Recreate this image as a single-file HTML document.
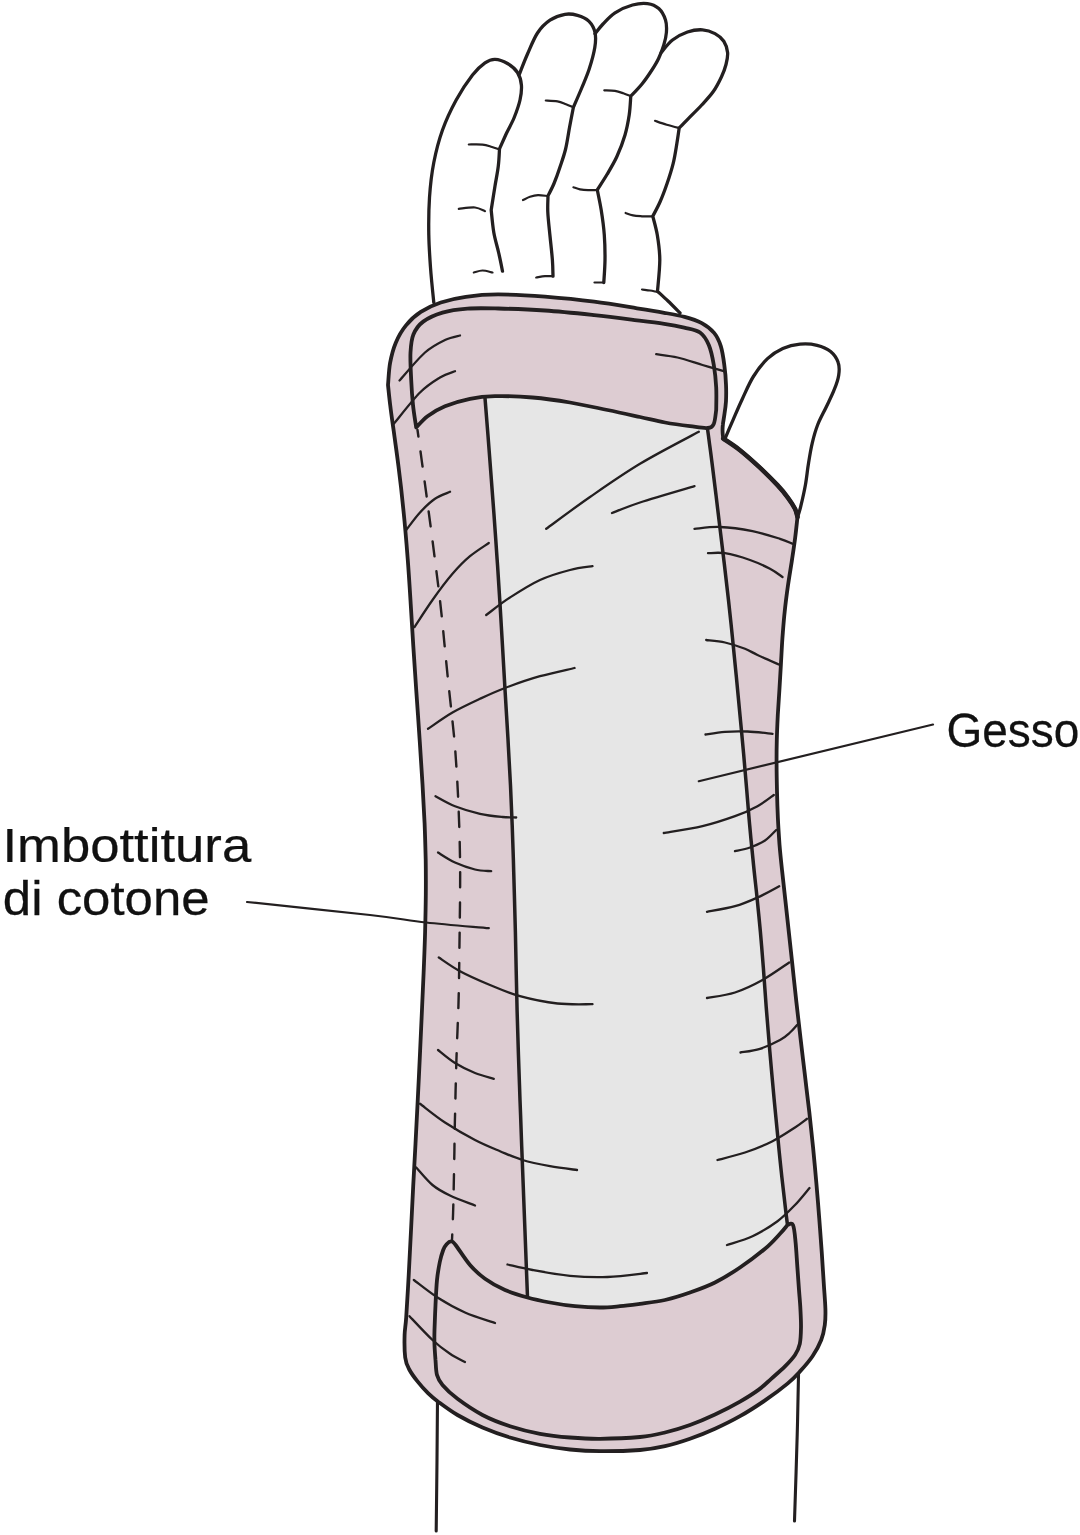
<!DOCTYPE html>
<html lang="it">
<head>
<meta charset="utf-8">
<title>Imbottitura di cotone - Gesso</title>
<style>
html,body{margin:0;padding:0;background:#fff;}
body{width:1080px;height:1535px;overflow:hidden;position:relative;font-family:"Liberation Sans",sans-serif;}
svg{display:block;position:absolute;left:0;top:0;will-change:transform;}
text{font-family:"Liberation Sans",sans-serif;fill:#111;stroke:#111;stroke-width:0.25px;}
</style>
</head>
<body>
<svg width="1080" height="1535" viewBox="0 0 1080 1535">
<rect x="0" y="0" width="1080" height="1535" fill="#ffffff"/>
<path d="M437.5 1398.0 C437.4 1408.3 437.2 1437.8 437.0 1460.0 C436.8 1482.2 436.3 1519.2 436.2 1531.0" fill="none" stroke="#231f20" stroke-width="3.1" stroke-linecap="round" stroke-linejoin="round"/>
<path d="M798.6 1370.0 C798.4 1380.8 797.9 1409.8 797.2 1435.0 C796.5 1460.2 795.0 1506.7 794.5 1521.0" fill="none" stroke="#231f20" stroke-width="3.1" stroke-linecap="round" stroke-linejoin="round"/>
<path d="M433.8 302.5 C433.2 296.7 431.3 278.8 430.5 267.5 C429.7 256.2 429.0 246.7 428.8 235.0 C428.6 223.3 428.7 209.6 429.5 197.5 C430.3 185.4 431.6 173.8 433.8 162.5 C436.0 151.2 438.8 140.4 442.5 130.0 C446.2 119.6 451.2 109.2 456.2 100.0 C461.2 90.8 467.7 81.2 472.5 75.0 C477.3 68.8 481.2 65.4 485.0 62.8 C488.8 60.2 491.2 59.2 495.0 59.3 C498.8 59.4 503.8 61.3 507.5 63.5 C511.2 65.7 515.2 68.9 517.5 72.5 C519.8 76.1 521.0 80.4 521.4 85.0 C521.8 89.6 521.2 94.6 520.0 100.0 C518.8 105.4 516.4 112.0 514.2 117.5 C512.0 123.0 509.1 127.8 506.6 133.0 C504.2 138.2 500.7 146.2 499.5 148.8 C499.3 151.7 499.1 159.8 498.3 166.0 C497.6 172.2 496.2 178.7 495.0 186.0 C493.8 193.3 491.8 206.0 491.2 210.0 C491.6 213.8 492.6 225.4 493.8 232.5 C495.0 239.6 497.2 246.1 498.6 252.5 C500.1 258.9 501.9 268.1 502.5 271.2" fill="none" stroke="#231f20" stroke-width="3.3" stroke-linecap="round" stroke-linejoin="round"/>
<path d="M519.5 73.8 C520.8 70.5 524.5 60.8 527.5 54.0 C530.5 47.2 533.8 38.6 537.5 33.0 C541.2 27.4 545.4 23.3 550.0 20.2 C554.6 17.1 560.4 15.1 565.0 14.3 C569.6 13.5 573.5 14.2 577.5 15.3 C581.5 16.4 585.9 18.3 588.8 21.2 C591.7 24.1 594.0 28.1 595.0 32.5 C596.0 36.9 595.8 41.4 594.8 47.5 C593.8 53.6 591.4 62.2 589.2 69.0 C587.0 75.8 584.3 81.6 581.7 88.0 C579.1 94.4 574.8 104.0 573.4 107.2 C572.8 110.5 570.9 120.0 569.6 127.0 C568.3 134.0 567.2 142.3 565.6 149.0 C564.0 155.7 561.9 161.2 560.0 167.0 C558.1 172.8 556.0 178.7 554.0 183.5 C552.0 188.3 549.0 193.8 548.0 195.8 C548.0 198.5 547.5 205.3 547.8 212.0 C548.1 218.7 549.2 228.0 550.0 236.0 C550.8 244.0 551.9 253.3 552.4 260.0 C552.9 266.7 552.9 273.5 553.0 276.2" fill="none" stroke="#231f20" stroke-width="3.3" stroke-linecap="round" stroke-linejoin="round"/>
<path d="M595.0 33.8 C596.3 32.2 599.7 27.5 603.0 24.0 C606.3 20.5 610.1 16.0 615.0 12.8 C619.9 9.6 627.1 6.5 632.5 5.0 C637.9 3.5 643.1 3.0 647.5 3.6 C651.9 4.2 655.8 5.9 658.8 8.6 C661.8 11.3 664.2 16.0 665.5 20.0 C666.8 24.0 666.7 28.3 666.4 32.5 C666.1 36.7 665.1 40.7 663.8 45.0 C662.5 49.3 660.6 54.2 658.6 58.5 C656.6 62.8 654.4 66.2 651.6 70.5 C648.8 74.8 645.5 79.7 642.0 84.0 C638.5 88.3 632.7 94.2 630.8 96.2 C630.5 99.3 630.2 108.5 629.2 115.0 C628.2 121.5 627.0 128.1 625.0 135.0 C623.0 141.9 619.9 149.9 616.9 156.5 C613.9 163.1 610.3 168.9 607.0 174.5 C603.7 180.1 598.9 187.2 597.3 189.8 C597.9 193.2 600.0 202.5 601.2 210.0 C602.4 217.5 603.7 226.7 604.3 235.0 C604.9 243.3 605.1 252.1 605.0 260.0 C604.9 267.9 604.0 278.8 603.8 282.5" fill="none" stroke="#231f20" stroke-width="3.3" stroke-linecap="round" stroke-linejoin="round"/>
<path d="M661.2 52.5 C663.1 50.4 668.1 43.4 672.5 40.0 C676.9 36.6 682.5 33.7 687.5 32.0 C692.5 30.3 697.9 29.5 702.5 29.8 C707.1 30.1 711.5 31.7 715.0 33.6 C718.5 35.5 721.7 38.1 723.8 41.2 C725.9 44.4 727.2 48.6 727.6 52.5 C728.0 56.4 727.0 60.5 726.0 64.5 C725.0 68.5 723.6 72.2 721.5 76.7 C719.4 81.2 716.6 86.8 713.3 91.5 C710.0 96.2 705.8 100.5 701.7 105.0 C697.6 109.5 692.4 114.5 688.6 118.3 C684.9 122.1 680.8 126.4 679.2 128.0 C678.8 130.6 677.9 137.4 676.9 143.3 C675.9 149.2 674.9 156.5 673.2 163.3 C671.5 170.1 669.1 177.6 666.9 184.0 C664.7 190.4 662.6 196.1 660.2 201.5 C657.9 206.9 654.0 213.8 652.8 216.2 C653.5 219.3 656.1 227.7 657.3 235.0 C658.5 242.3 659.8 250.6 659.8 260.0 C659.8 269.4 657.9 286.0 657.5 291.2 C659.2 292.8 664.2 297.4 668.0 301.0 C671.8 304.6 678.0 311.0 680.0 313.0" fill="none" stroke="#231f20" stroke-width="3.3" stroke-linecap="round" stroke-linejoin="round"/>
<path d="M468.8 144.5 C471.1 144.5 478.6 144.2 482.5 144.6 C486.4 145.0 489.2 146.2 492.0 147.0 C494.8 147.8 498.2 149.1 499.5 149.5" fill="none" stroke="#231f20" stroke-width="2.2" stroke-linecap="round" stroke-linejoin="round"/>
<path d="M458.8 208.8 C461.5 208.6 470.6 207.1 475.0 207.5 C479.4 207.9 483.3 210.6 485.0 211.2" fill="none" stroke="#231f20" stroke-width="2.2" stroke-linecap="round" stroke-linejoin="round"/>
<path d="M473.8 272.5 C475.2 272.2 479.4 270.5 482.5 270.5 C485.6 270.5 490.8 272.2 492.5 272.5" fill="none" stroke="#231f20" stroke-width="2.2" stroke-linecap="round" stroke-linejoin="round"/>
<path d="M545.8 100.5 C547.8 100.6 554.1 100.7 557.5 101.3 C560.9 101.9 563.4 103.2 566.0 104.2 C568.6 105.2 572.2 106.9 573.4 107.4" fill="none" stroke="#231f20" stroke-width="2.2" stroke-linecap="round" stroke-linejoin="round"/>
<path d="M523.0 200.0 C524.2 199.5 527.5 197.6 530.0 196.8 C532.5 196.0 535.0 195.3 538.0 195.2 C541.0 195.1 546.3 195.9 548.0 196.0" fill="none" stroke="#231f20" stroke-width="2.2" stroke-linecap="round" stroke-linejoin="round"/>
<path d="M536.2 277.5 C537.7 277.3 542.2 276.4 545.0 276.2 C547.8 276.0 551.7 276.2 553.0 276.2" fill="none" stroke="#231f20" stroke-width="2.2" stroke-linecap="round" stroke-linejoin="round"/>
<path d="M604.3 90.3 C606.1 90.4 611.8 90.4 615.0 90.9 C618.2 91.4 620.7 92.4 623.3 93.3 C625.9 94.2 629.5 95.7 630.8 96.2" fill="none" stroke="#231f20" stroke-width="2.2" stroke-linecap="round" stroke-linejoin="round"/>
<path d="M573.4 187.3 C574.5 187.6 577.6 188.8 580.0 189.3 C582.4 189.8 585.1 190.1 588.0 190.2 C590.9 190.3 595.8 190.0 597.3 190.0" fill="none" stroke="#231f20" stroke-width="2.2" stroke-linecap="round" stroke-linejoin="round"/>
<path d="M594.5 282.5 L604.0 282.5" fill="none" stroke="#231f20" stroke-width="2.2" stroke-linecap="round" stroke-linejoin="round"/>
<path d="M655.0 120.8 C657.0 121.5 662.7 123.6 666.7 124.8 C670.7 126.0 677.1 127.5 679.2 128.0" fill="none" stroke="#231f20" stroke-width="2.2" stroke-linecap="round" stroke-linejoin="round"/>
<path d="M625.6 213.0 C626.8 213.4 630.3 214.8 633.0 215.4 C635.7 216.0 638.7 216.1 642.0 216.3 C645.3 216.5 651.0 216.4 652.8 216.4" fill="none" stroke="#231f20" stroke-width="2.2" stroke-linecap="round" stroke-linejoin="round"/>
<path d="M642.0 289.5 C643.3 289.7 647.4 290.1 650.0 290.5 C652.6 290.9 656.2 291.8 657.5 292.0" fill="none" stroke="#231f20" stroke-width="2.2" stroke-linecap="round" stroke-linejoin="round"/>
<path d="M725.8 436.8 C727.0 433.9 730.4 425.9 733.2 419.6 C735.9 413.4 738.8 406.4 742.2 399.2 C745.6 392.0 749.1 383.3 753.4 376.5 C757.6 369.8 762.6 363.3 767.5 358.6 C772.4 354.0 777.3 351.0 782.8 348.5 C788.2 346.1 794.3 344.7 800.0 344.2 C805.7 343.6 812.0 344.1 817.1 345.3 C822.2 346.5 827.1 348.6 830.6 351.5 C834.1 354.4 836.9 358.6 838.2 362.6 C839.6 366.6 839.4 370.6 838.7 375.2 C838.0 379.9 836.2 384.9 834.0 390.2 C831.9 395.6 828.7 401.7 826.0 407.5 C823.2 413.3 819.9 419.1 817.6 425.0 C815.3 430.9 813.8 436.5 812.3 442.8 C810.8 449.0 809.7 455.7 808.6 462.8 C807.4 469.8 806.7 477.8 805.4 485.0 C804.1 492.2 802.1 500.8 800.8 506.2 C799.5 511.7 798.0 515.6 797.5 517.5" fill="#fff" stroke="#231f20" stroke-width="3.3" stroke-linecap="round" stroke-linejoin="round"/>
<path d="M388.0 385.0 C388.4 381.3 388.8 369.9 390.1 362.9 C391.4 355.9 393.1 349.1 395.7 342.9 C398.3 336.7 401.6 330.7 405.8 325.6 C409.9 320.4 414.9 315.7 420.8 311.9 C426.6 308.1 433.2 305.0 440.8 302.5 C448.2 300.0 456.2 298.1 465.8 296.8 C475.3 295.4 484.8 294.4 498.0 294.4 C511.2 294.4 529.0 295.4 545.0 296.6 C561.0 297.9 578.9 299.7 594.2 301.7 C609.6 303.6 625.3 306.4 637.0 308.3 C648.7 310.1 656.3 311.3 664.2 312.8 C672.2 314.2 678.4 315.2 684.6 316.9 C690.9 318.6 696.8 320.5 701.8 323.1 C706.7 325.8 710.9 329.0 714.1 332.9 C717.2 336.7 719.1 340.8 720.8 346.1 C722.5 351.5 723.5 358.6 724.3 365.0 C725.2 371.4 725.8 378.5 726.0 384.6 C726.3 390.6 726.2 396.4 726.0 401.2 C725.7 406.1 725.1 410.0 724.5 413.8 C724.0 417.7 723.2 421.4 722.9 424.4 C722.5 427.4 722.5 429.6 722.6 431.9 C722.6 434.3 723.2 437.5 723.3 438.6 C726.1 440.5 734.1 445.5 740.0 450.2 C745.9 454.9 752.5 460.8 758.8 466.6 C765.0 472.4 772.6 480.0 777.5 485.2 C782.4 490.4 785.1 493.9 788.0 497.8 C790.9 501.7 793.4 505.6 795.0 508.8 C796.6 512.0 797.1 515.6 797.5 517.0 C797.1 520.4 796.1 530.4 795.2 537.6 C794.3 544.9 793.1 552.5 791.9 560.4 C790.7 568.4 789.2 576.8 788.0 585.3 C786.8 593.8 785.6 602.7 784.7 611.6 C783.7 620.4 783.1 629.6 782.4 638.4 C781.8 647.3 781.4 656.1 780.9 664.7 C780.4 673.3 779.9 681.6 779.4 690.0 C778.9 698.4 778.3 706.7 777.8 715.0 C777.4 723.3 777.0 731.6 776.8 740.0 C776.6 748.4 776.5 756.7 776.6 765.3 C776.6 773.9 776.8 782.7 777.0 791.6 C777.2 800.4 777.5 809.6 777.9 818.4 C778.3 827.3 778.9 836.0 779.5 844.7 C780.2 853.4 781.1 861.6 782.1 870.8 C783.1 879.9 784.2 889.3 785.3 899.7 C786.5 910.0 787.7 921.5 788.9 932.8 C790.2 944.1 791.4 956.1 792.7 967.7 C793.9 979.2 795.1 990.6 796.4 1002.3 C797.7 1014.1 799.0 1025.9 800.5 1038.0 C801.9 1050.1 803.4 1062.7 804.9 1075.0 C806.3 1087.3 807.9 1099.9 809.3 1112.0 C810.6 1124.1 811.9 1135.9 813.1 1147.7 C814.2 1159.4 815.3 1170.7 816.3 1182.3 C817.3 1194.0 818.3 1206.0 819.2 1217.8 C820.1 1229.6 821.0 1242.1 821.8 1253.0 C822.5 1264.0 823.2 1274.5 823.8 1283.8 C824.4 1293.1 825.2 1301.9 825.4 1308.8 C825.6 1315.7 825.5 1319.8 824.8 1325.0 C824.1 1330.2 823.2 1334.8 821.2 1340.0 C819.2 1345.2 816.0 1351.0 812.5 1356.2 C809.0 1361.4 804.2 1366.8 800.0 1371.4 C795.8 1376.0 793.3 1378.8 787.5 1383.6 C781.7 1388.4 772.9 1395.0 765.0 1400.4 C757.1 1405.8 748.3 1411.5 740.0 1416.2 C731.7 1420.9 723.3 1425.0 715.0 1428.8 C706.7 1432.6 698.3 1435.9 690.0 1438.8 C681.7 1441.7 673.3 1444.3 665.0 1446.2 C656.7 1448.1 650.8 1449.2 640.0 1450.0 C629.2 1450.8 611.7 1451.3 600.0 1451.2 C588.3 1451.1 580.0 1450.5 570.0 1449.5 C560.0 1448.5 550.0 1447.0 540.0 1445.0 C530.0 1443.0 519.6 1440.4 510.0 1437.5 C500.4 1434.6 491.2 1431.2 482.5 1427.5 C473.8 1423.8 465.0 1419.4 457.5 1415.0 C450.0 1410.6 442.4 1404.8 437.5 1401.2 C432.6 1397.6 431.3 1396.5 428.0 1393.2 C424.7 1389.9 420.7 1385.4 417.5 1381.4 C414.3 1377.4 411.1 1373.0 409.0 1369.0 C406.9 1365.0 405.9 1363.2 405.2 1357.5 C404.5 1351.8 404.4 1341.7 404.6 1335.0 C404.8 1328.3 405.5 1327.4 406.2 1317.5 C406.9 1307.6 407.9 1289.8 408.7 1275.3 C409.5 1260.8 410.2 1245.3 411.0 1230.5 C411.8 1215.6 412.5 1200.7 413.2 1186.2 C414.0 1171.8 414.7 1158.3 415.5 1143.8 C416.3 1129.2 417.1 1114.2 417.8 1098.8 C418.6 1083.3 419.4 1066.5 420.1 1051.2 C420.8 1036.0 421.5 1020.8 422.1 1007.0 C422.7 993.2 423.3 980.9 423.8 968.4 C424.3 955.9 424.8 944.2 425.1 932.0 C425.4 919.8 425.7 907.4 425.8 895.3 C425.9 883.2 425.9 871.2 425.7 859.2 C425.4 847.2 425.1 835.9 424.6 823.4 C424.0 810.9 423.3 798.3 422.5 784.2 C421.7 770.2 420.7 754.6 419.6 739.1 C418.6 723.6 417.4 706.7 416.3 691.2 C415.3 675.8 414.2 660.8 413.3 646.2 C412.4 631.7 411.6 618.3 410.7 603.8 C409.8 589.2 408.9 574.2 407.7 558.8 C406.5 543.3 405.1 526.3 403.5 510.9 C402.0 495.6 400.2 479.8 398.5 466.6 C396.9 453.3 395.1 441.7 393.8 431.6 C392.4 421.5 391.2 413.7 390.3 405.9 C389.3 398.2 388.4 388.5 388.0 385.0Z" fill="#ddccd2" stroke="#231f20" stroke-width="3.8" stroke-linecap="round" stroke-linejoin="round"/>
<path d="M723.3 438.6 C726.1 440.5 734.1 445.5 740.0 450.2 C745.9 454.9 752.5 460.8 758.8 466.6 C765.0 472.4 772.6 480.0 777.5 485.2 C782.4 490.4 785.1 493.9 788.0 497.8 C790.9 501.7 793.4 505.6 795.0 508.8 C796.6 512.0 797.1 515.6 797.5 517.0" fill="none" stroke="#231f20" stroke-width="4.6" stroke-linecap="round" stroke-linejoin="round"/>
<path d="M485.0 398.0 C485.5 404.3 487.0 423.3 488.0 435.7 C489.0 448.1 489.8 459.4 490.8 472.4 C491.8 485.3 492.8 498.8 493.9 513.3 C494.9 527.7 496.1 544.0 497.1 559.1 C498.2 574.1 499.1 589.2 500.0 603.8 C500.9 618.3 501.6 631.7 502.5 646.2 C503.3 660.8 504.2 675.7 505.1 691.2 C506.0 706.8 507.1 723.7 508.0 739.4 C508.8 755.1 509.8 771.1 510.5 785.5 C511.2 799.8 511.7 812.8 512.2 825.3 C512.7 837.8 513.0 848.8 513.4 860.5 C513.7 872.2 514.1 883.6 514.4 895.6 C514.7 907.7 515.1 920.1 515.4 932.7 C515.7 945.2 515.9 957.9 516.2 970.9 C516.5 984.0 516.8 997.0 517.1 1010.8 C517.5 1024.6 517.9 1038.9 518.4 1053.8 C518.9 1068.6 519.5 1084.6 520.0 1100.0 C520.6 1115.4 521.2 1131.2 521.7 1146.2 C522.3 1161.2 522.8 1175.8 523.4 1190.0 C523.9 1204.2 524.5 1218.6 525.0 1231.7 C525.5 1244.7 526.0 1257.4 526.4 1268.2 C526.8 1279.1 527.3 1292.2 527.5 1297.0 L527.5 1297.5 C531.2 1298.3 542.1 1301.0 550.0 1302.5 C557.9 1304.0 566.7 1305.4 575.0 1306.2 C583.3 1307.0 592.5 1307.5 600.0 1307.5 C607.5 1307.5 613.3 1306.8 620.0 1306.2 C626.7 1305.6 632.5 1304.8 640.0 1303.8 C647.5 1302.8 656.7 1301.9 665.0 1300.0 C673.3 1298.1 681.7 1295.4 690.0 1292.5 C698.3 1289.6 706.7 1286.7 715.0 1282.5 C723.3 1278.3 731.7 1273.1 740.0 1267.5 C748.3 1261.9 758.3 1254.4 765.0 1248.8 C771.7 1243.2 776.2 1237.8 780.0 1233.8 C783.8 1229.8 786.2 1226.5 787.5 1225.0 C787.0 1221.3 785.7 1210.9 784.8 1202.8 C783.9 1194.7 782.9 1186.7 781.8 1176.6 C780.7 1166.5 779.5 1155.2 778.3 1142.2 C777.0 1129.2 775.5 1113.9 774.1 1098.8 C772.7 1083.6 771.1 1066.5 769.8 1051.2 C768.5 1036.0 767.3 1020.8 766.2 1007.0 C765.1 993.2 764.3 980.9 763.4 968.4 C762.4 955.9 761.5 944.2 760.4 932.0 C759.3 919.8 758.0 907.4 756.8 895.3 C755.5 883.2 754.1 871.2 753.0 859.5 C751.8 847.9 750.7 836.9 749.7 825.5 C748.6 814.0 747.8 802.8 746.8 790.8 C745.8 778.8 744.8 766.2 743.6 753.6 C742.5 741.0 741.2 728.0 740.0 715.3 C738.8 702.6 737.6 690.1 736.4 677.3 C735.1 664.6 733.9 651.9 732.6 639.1 C731.3 626.2 729.9 613.0 728.5 600.3 C727.1 587.6 725.6 574.9 724.2 563.0 C722.8 551.0 721.4 539.6 720.0 528.4 C718.7 517.3 717.4 506.2 716.1 495.9 C714.9 485.6 713.6 475.2 712.5 466.7 C711.4 458.1 710.5 450.7 709.6 444.5 C708.8 438.2 707.9 431.6 707.5 429.0 L707.5 428.0 C704.6 427.7 697.1 427.1 690.0 426.2 C682.9 425.3 673.3 424.0 665.0 422.5 C656.7 421.0 649.6 419.1 640.0 417.0 C630.4 414.9 619.2 412.4 607.5 410.0 C595.8 407.6 582.5 404.6 570.0 402.5 C557.5 400.4 545.0 398.6 532.5 397.5 C520.0 396.4 501.2 396.4 495.0 396.2Z" fill="#e6e6e6" stroke="none" stroke-width="2.5" stroke-linecap="round" stroke-linejoin="round"/>
<path d="M485.0 398.0 C485.5 404.3 487.0 423.3 488.0 435.7 C489.0 448.1 489.8 459.4 490.8 472.4 C491.8 485.3 492.8 498.8 493.9 513.3 C494.9 527.7 496.1 544.0 497.1 559.1 C498.2 574.1 499.1 589.2 500.0 603.8 C500.9 618.3 501.6 631.7 502.5 646.2 C503.3 660.8 504.2 675.7 505.1 691.2 C506.0 706.8 507.1 723.7 508.0 739.4 C508.8 755.1 509.8 771.1 510.5 785.5 C511.2 799.8 511.7 812.8 512.2 825.3 C512.7 837.8 513.0 848.8 513.4 860.5 C513.7 872.2 514.1 883.6 514.4 895.6 C514.7 907.7 515.1 920.1 515.4 932.7 C515.7 945.2 515.9 957.9 516.2 970.9 C516.5 984.0 516.8 997.0 517.1 1010.8 C517.5 1024.6 517.9 1038.9 518.4 1053.8 C518.9 1068.6 519.5 1084.6 520.0 1100.0 C520.6 1115.4 521.2 1131.2 521.7 1146.2 C522.3 1161.2 522.8 1175.8 523.4 1190.0 C523.9 1204.2 524.5 1218.6 525.0 1231.7 C525.5 1244.7 526.0 1257.4 526.4 1268.2 C526.8 1279.1 527.3 1292.2 527.5 1297.0" fill="none" stroke="#231f20" stroke-width="3.5" stroke-linecap="round" stroke-linejoin="round"/>
<path d="M787.5 1225.0 C787.0 1221.3 785.7 1210.9 784.8 1202.8 C783.9 1194.7 782.9 1186.7 781.8 1176.6 C780.7 1166.5 779.5 1155.2 778.3 1142.2 C777.0 1129.2 775.5 1113.9 774.1 1098.8 C772.7 1083.6 771.1 1066.5 769.8 1051.2 C768.5 1036.0 767.3 1020.8 766.2 1007.0 C765.1 993.2 764.3 980.9 763.4 968.4 C762.4 955.9 761.5 944.2 760.4 932.0 C759.3 919.8 758.0 907.4 756.8 895.3 C755.5 883.2 754.1 871.2 753.0 859.5 C751.8 847.9 750.7 836.9 749.7 825.5 C748.6 814.0 747.8 802.8 746.8 790.8 C745.8 778.8 744.8 766.2 743.6 753.6 C742.5 741.0 741.2 728.0 740.0 715.3 C738.8 702.6 737.6 690.1 736.4 677.3 C735.1 664.6 733.9 651.9 732.6 639.1 C731.3 626.2 729.9 613.0 728.5 600.3 C727.1 587.6 725.6 574.9 724.2 563.0 C722.8 551.0 721.4 539.6 720.0 528.4 C718.7 517.3 717.4 506.2 716.1 495.9 C714.9 485.6 713.6 475.2 712.5 466.7 C711.4 458.1 710.5 450.7 709.6 444.5 C708.8 438.2 707.9 431.6 707.5 429.0" fill="none" stroke="#231f20" stroke-width="3.5" stroke-linecap="round" stroke-linejoin="round"/>
<path d="M417.5 430.0 C418.2 435.3 420.5 451.0 421.9 461.8 C423.4 472.6 424.9 483.7 426.4 494.5 C427.8 505.4 429.3 516.4 430.7 526.9 C432.1 537.4 433.4 547.6 434.7 557.8 C436.0 567.9 437.3 577.9 438.5 587.9 C439.7 597.9 440.9 608.0 441.9 617.9 C443.0 627.8 443.8 637.6 444.8 647.4 C445.8 657.2 446.7 666.9 447.7 676.8 C448.7 686.6 449.9 696.6 450.9 706.6 C452.0 716.6 453.1 726.7 454.1 736.8 C455.0 746.8 455.8 756.9 456.4 766.9 C457.1 777.0 457.6 787.1 458.1 797.1 C458.5 807.2 459.0 817.3 459.3 827.5 C459.6 837.6 459.9 847.8 460.0 858.1 C460.2 868.4 460.2 878.8 460.1 889.1 C460.1 899.4 459.9 909.7 459.8 919.8 C459.7 930.0 459.5 940.1 459.4 950.0 C459.3 959.9 459.2 969.9 459.0 979.4 C458.9 988.9 458.6 997.9 458.4 1006.9 C458.1 1015.8 457.7 1024.2 457.4 1033.1 C457.0 1042.1 456.7 1051.1 456.4 1060.6 C456.1 1070.1 455.9 1080.1 455.6 1090.0 C455.4 1099.9 455.2 1110.1 454.9 1120.3 C454.7 1130.6 454.5 1141.1 454.4 1151.6 C454.2 1162.0 454.0 1172.9 453.8 1183.1 C453.6 1193.3 453.4 1203.3 453.1 1212.8 C452.8 1222.3 452.2 1235.5 452.0 1240.0" fill="none" stroke="#231f20" stroke-width="2.4" stroke-linecap="round" stroke-linejoin="round" stroke-dasharray="15.2 15" stroke-dashoffset="8.5" stroke-linecap="butt"/>
<path d="M416.2 427.5 C415.7 423.8 413.8 412.9 413.0 405.0 C412.2 397.1 411.6 388.8 411.2 380.0 C410.8 371.2 410.1 360.1 410.5 352.5 C410.9 344.9 411.3 339.6 413.4 334.5 C415.5 329.4 418.3 325.2 423.2 321.6 C428.1 318.0 435.1 314.8 442.5 312.6 C449.9 310.4 458.2 309.3 467.5 308.6 C476.8 307.9 485.5 308.2 498.4 308.5 C511.3 308.8 529.0 309.4 545.0 310.5 C561.0 311.6 578.9 313.5 594.2 315.1 C609.6 316.7 625.3 318.8 637.0 320.3 C648.7 321.7 656.4 322.6 664.2 323.8 C672.1 325.0 678.3 326.2 684.2 327.6 C690.2 329.1 695.9 329.6 700.0 332.5 C704.1 335.4 706.5 339.6 708.8 345.0 C711.1 350.4 712.6 357.9 713.8 365.0 C715.0 372.1 715.8 380.0 716.2 387.5 C716.6 395.0 716.2 406.2 716.2 410.0 C715.8 412.3 715.2 420.8 713.8 423.8 C712.3 426.8 711.5 427.6 707.5 428.0 C703.5 428.4 697.1 427.1 690.0 426.2 C682.9 425.3 673.3 424.0 665.0 422.5 C656.7 421.0 649.6 419.1 640.0 417.0 C630.4 414.9 619.2 412.4 607.5 410.0 C595.8 407.6 582.5 404.6 570.0 402.5 C557.5 400.4 545.0 398.6 532.5 397.5 C520.0 396.4 505.4 396.0 495.0 396.2 C484.6 396.4 478.3 397.1 470.0 398.8 C461.7 400.5 452.1 403.3 445.0 406.2 C437.9 409.1 432.3 412.6 427.5 416.2 C422.7 419.8 418.1 425.6 416.2 427.5Z" fill="#ddccd2" stroke="#231f20" stroke-width="3.8" stroke-linecap="round" stroke-linejoin="round"/>
<path d="M435.5 1360.0 C435.3 1357.5 434.7 1350.0 434.5 1345.0 C434.3 1340.0 434.3 1336.7 434.5 1330.0 C434.7 1323.3 435.1 1313.3 435.5 1305.0 C435.9 1296.7 436.3 1287.2 437.0 1280.0 C437.7 1272.8 438.8 1267.0 439.8 1262.0 C440.8 1257.0 442.1 1253.0 443.2 1250.0 C444.3 1247.0 445.3 1245.6 446.6 1244.2 C447.9 1242.8 449.7 1241.3 451.2 1241.4 C452.7 1241.5 452.5 1241.1 455.6 1245.0 C458.7 1248.9 465.1 1259.4 470.0 1265.0 C474.9 1270.6 479.2 1274.6 485.0 1278.8 C490.8 1283.0 497.9 1286.9 505.0 1290.0 C512.1 1293.1 520.0 1295.4 527.5 1297.5 C535.0 1299.6 542.1 1301.0 550.0 1302.5 C557.9 1304.0 566.7 1305.4 575.0 1306.2 C583.3 1307.0 592.5 1307.5 600.0 1307.5 C607.5 1307.5 613.3 1306.8 620.0 1306.2 C626.7 1305.6 632.5 1304.8 640.0 1303.8 C647.5 1302.8 656.7 1301.9 665.0 1300.0 C673.3 1298.1 681.7 1295.4 690.0 1292.5 C698.3 1289.6 706.7 1286.7 715.0 1282.5 C723.3 1278.3 731.7 1273.1 740.0 1267.5 C748.3 1261.9 758.3 1254.4 765.0 1248.8 C771.7 1243.2 776.2 1237.8 780.0 1233.8 C783.8 1229.8 786.2 1226.5 787.5 1225.0 C788.4 1225.0 791.6 1222.1 793.0 1225.0 C794.4 1227.9 794.9 1235.4 795.6 1242.5 C796.3 1249.6 796.8 1259.6 797.4 1267.5 C798.0 1275.4 798.5 1283.1 799.0 1290.0 C799.5 1296.9 800.1 1302.5 800.4 1308.8 C800.7 1315.0 801.1 1321.7 801.0 1327.5 C800.9 1333.3 800.8 1339.2 799.8 1343.8 C798.8 1348.4 797.5 1351.2 795.0 1355.0 C792.5 1358.8 789.0 1362.4 785.0 1366.4 C781.0 1370.4 775.6 1374.9 771.2 1378.8 C766.8 1382.7 764.0 1385.8 758.8 1389.6 C753.6 1393.4 747.3 1397.4 740.0 1401.6 C732.7 1405.8 723.3 1410.6 715.0 1414.5 C706.7 1418.4 698.3 1422.0 690.0 1425.0 C681.7 1428.0 673.3 1430.5 665.0 1432.5 C656.7 1434.5 650.8 1436.0 640.0 1437.0 C629.2 1438.0 611.7 1438.7 600.0 1438.8 C588.3 1438.9 580.0 1438.3 570.0 1437.5 C560.0 1436.7 550.0 1435.7 540.0 1433.8 C530.0 1431.9 519.6 1429.3 510.0 1426.2 C500.4 1423.1 491.2 1419.6 482.5 1415.0 C473.8 1410.4 464.2 1403.8 457.5 1398.8 C450.8 1393.8 445.9 1389.0 442.5 1385.0 C439.1 1381.0 438.2 1379.2 437.0 1375.0 C435.8 1370.8 435.8 1362.5 435.5 1360.0Z" fill="#ddccd2" stroke="#231f20" stroke-width="3.8" stroke-linecap="round" stroke-linejoin="round"/>
<path d="M399.5 380.5 C403.8 375.8 417.4 359.2 425.0 352.5 C432.6 345.8 439.2 342.8 445.0 340.0 C450.8 337.2 457.5 336.2 460.0 335.5" fill="none" stroke="#231f20" stroke-width="2.3" stroke-linecap="round" stroke-linejoin="round"/>
<path d="M393.8 423.8 C398.2 418.6 412.3 400.2 420.0 392.5 C427.7 384.8 434.2 381.1 440.0 377.5 C445.8 373.9 452.5 372.2 455.0 371.2" fill="none" stroke="#231f20" stroke-width="2.3" stroke-linecap="round" stroke-linejoin="round"/>
<path d="M656.2 354.2 C659.8 354.8 669.8 355.7 677.5 357.5 C685.2 359.3 694.8 362.7 702.5 365.0 C710.2 367.3 720.2 370.2 723.8 371.2" fill="none" stroke="#231f20" stroke-width="2.3" stroke-linecap="round" stroke-linejoin="round"/>
<path d="M406.2 530.0 C408.5 527.1 415.2 517.7 420.0 512.5 C424.8 507.3 430.0 502.2 435.0 498.8 C440.0 495.4 447.5 493.0 450.0 491.8" fill="none" stroke="#231f20" stroke-width="2.3" stroke-linecap="round" stroke-linejoin="round"/>
<path d="M414.5 627.0 C417.5 622.5 426.2 608.9 432.5 600.0 C438.8 591.1 446.2 581.1 452.5 573.8 C458.8 566.5 463.9 561.3 470.0 556.2 C476.1 551.1 485.7 545.2 488.8 543.0" fill="none" stroke="#231f20" stroke-width="2.3" stroke-linecap="round" stroke-linejoin="round"/>
<path d="M428.0 728.8 C432.1 726.1 443.8 717.5 452.5 712.5 C461.2 707.5 471.2 702.9 480.0 698.8 C488.8 694.7 495.0 691.8 505.0 688.0 C515.0 684.2 528.4 679.5 540.0 676.2 C551.6 672.9 568.8 669.4 574.5 668.0" fill="none" stroke="#231f20" stroke-width="2.3" stroke-linecap="round" stroke-linejoin="round"/>
<path d="M435.5 796.2 C438.8 797.9 447.6 803.3 455.0 806.2 C462.4 809.1 472.1 812.0 480.0 813.8 C487.9 815.6 496.5 816.4 502.5 817.0 C508.5 817.6 513.9 817.4 516.2 817.5" fill="none" stroke="#231f20" stroke-width="2.3" stroke-linecap="round" stroke-linejoin="round"/>
<path d="M438.0 852.5 C440.8 854.2 448.8 859.7 455.0 862.5 C461.2 865.3 469.0 868.0 475.0 869.5 C481.0 871.0 488.5 870.9 491.2 871.2" fill="none" stroke="#231f20" stroke-width="2.3" stroke-linecap="round" stroke-linejoin="round"/>
<path d="M438.8 957.5 C442.3 959.8 451.5 966.6 460.0 971.2 C468.5 975.8 480.0 980.8 490.0 985.0 C500.0 989.2 508.8 993.1 520.0 996.2 C531.2 999.3 545.4 1002.2 557.5 1003.5 C569.6 1004.8 586.7 1004.1 592.5 1004.2" fill="none" stroke="#231f20" stroke-width="2.3" stroke-linecap="round" stroke-linejoin="round"/>
<path d="M438.0 1050.0 C440.8 1052.2 448.8 1059.2 455.0 1063.0 C461.2 1066.8 468.5 1070.4 475.0 1073.0 C481.5 1075.6 490.7 1077.8 493.8 1078.8" fill="none" stroke="#231f20" stroke-width="2.3" stroke-linecap="round" stroke-linejoin="round"/>
<path d="M420.0 1103.8 C424.2 1106.9 435.8 1116.5 445.0 1122.5 C454.2 1128.5 465.8 1135.2 475.0 1140.0 C484.2 1144.8 492.1 1147.9 500.0 1151.2 C507.9 1154.5 514.2 1157.5 522.5 1160.0 C530.8 1162.5 540.9 1164.5 550.0 1166.2 C559.1 1167.9 572.5 1169.4 577.0 1170.0" fill="none" stroke="#231f20" stroke-width="2.3" stroke-linecap="round" stroke-linejoin="round"/>
<path d="M416.2 1167.5 C418.9 1170.4 426.9 1180.3 432.5 1185.0 C438.1 1189.7 442.9 1192.1 450.0 1195.5 C457.1 1198.9 470.8 1203.8 475.0 1205.5" fill="none" stroke="#231f20" stroke-width="2.3" stroke-linecap="round" stroke-linejoin="round"/>
<path d="M413.8 1280.0 C417.8 1282.9 429.0 1292.1 437.5 1297.5 C446.0 1302.9 455.4 1308.2 465.0 1312.5 C474.6 1316.8 490.0 1321.2 495.0 1323.0" fill="none" stroke="#231f20" stroke-width="2.3" stroke-linecap="round" stroke-linejoin="round"/>
<path d="M409.5 1316.2 C413.3 1320.2 425.8 1333.7 432.5 1340.0 C439.2 1346.3 444.6 1350.1 450.0 1353.8 C455.4 1357.5 462.5 1360.6 465.0 1362.0" fill="none" stroke="#231f20" stroke-width="2.3" stroke-linecap="round" stroke-linejoin="round"/>
<path d="M546.2 528.8 C553.5 523.5 574.4 507.8 590.0 497.0 C605.6 486.2 621.9 474.7 640.0 463.8 C658.1 452.9 689.0 437.1 698.8 431.8" fill="none" stroke="#231f20" stroke-width="2.3" stroke-linecap="round" stroke-linejoin="round"/>
<path d="M612.0 513.0 C616.7 511.2 626.2 507.0 640.0 502.5 C653.8 498.0 685.4 488.9 694.5 486.2" fill="none" stroke="#231f20" stroke-width="2.3" stroke-linecap="round" stroke-linejoin="round"/>
<path d="M486.2 615.0 C490.2 612.1 501.0 603.3 510.0 597.5 C519.0 591.7 530.0 584.6 540.0 580.0 C550.0 575.4 561.2 572.3 570.0 570.0 C578.8 567.7 588.8 566.8 592.5 566.2" fill="none" stroke="#231f20" stroke-width="2.3" stroke-linecap="round" stroke-linejoin="round"/>
<path d="M507.5 1264.5 C511.7 1265.4 522.1 1268.1 532.5 1270.0 C542.9 1271.9 557.5 1274.6 570.0 1275.8 C582.5 1277.0 594.7 1277.5 607.5 1277.0 C620.3 1276.5 640.4 1273.7 647.0 1273.0" fill="none" stroke="#231f20" stroke-width="2.3" stroke-linecap="round" stroke-linejoin="round"/>
<path d="M694.5 528.8 C698.8 528.5 710.3 526.6 720.0 527.0 C729.7 527.4 742.5 529.2 752.5 531.2 C762.5 533.2 773.3 536.7 780.0 538.8 C786.7 540.9 790.4 543.0 792.5 543.8" fill="none" stroke="#231f20" stroke-width="2.3" stroke-linecap="round" stroke-linejoin="round"/>
<path d="M708.0 553.2 C710.8 553.2 718.0 552.1 725.0 553.2 C732.0 554.3 742.5 557.4 750.0 560.0 C757.5 562.6 764.6 566.0 770.0 568.8 C775.4 571.6 780.4 575.6 782.5 577.0" fill="none" stroke="#231f20" stroke-width="2.3" stroke-linecap="round" stroke-linejoin="round"/>
<path d="M706.2 640.0 C709.3 640.4 718.5 641.0 725.0 642.5 C731.5 644.0 739.6 646.7 745.0 648.8 C750.4 650.9 751.9 652.4 757.5 655.0 C763.1 657.6 775.2 662.9 778.8 664.5" fill="none" stroke="#231f20" stroke-width="2.3" stroke-linecap="round" stroke-linejoin="round"/>
<path d="M705.5 734.5 C708.8 734.0 718.0 732.3 725.0 731.8 C732.0 731.3 739.6 731.2 747.5 731.5 C755.4 731.8 768.3 733.4 772.5 733.8" fill="none" stroke="#231f20" stroke-width="2.3" stroke-linecap="round" stroke-linejoin="round"/>
<path d="M663.8 833.0 C670.2 831.9 690.6 829.0 702.5 826.2 C714.4 823.4 725.8 819.5 735.0 816.2 C744.2 812.9 751.0 809.7 757.5 806.2 C764.0 802.7 771.1 796.9 773.8 795.0" fill="none" stroke="#231f20" stroke-width="2.3" stroke-linecap="round" stroke-linejoin="round"/>
<path d="M735.0 851.2 C737.5 850.6 745.0 849.3 750.0 847.5 C755.0 845.7 760.6 843.4 765.0 840.5 C769.4 837.6 774.3 831.8 776.2 830.0" fill="none" stroke="#231f20" stroke-width="2.3" stroke-linecap="round" stroke-linejoin="round"/>
<path d="M707.0 911.8 C711.7 910.9 726.6 908.6 735.0 906.2 C743.4 903.8 750.1 900.8 757.5 897.5 C764.9 894.2 775.6 888.1 779.2 886.2" fill="none" stroke="#231f20" stroke-width="2.3" stroke-linecap="round" stroke-linejoin="round"/>
<path d="M707.0 998.0 C711.7 997.1 725.8 995.5 735.0 992.5 C744.2 989.5 753.5 985.0 762.5 980.0 C771.5 975.0 784.8 965.4 789.2 962.5" fill="none" stroke="#231f20" stroke-width="2.3" stroke-linecap="round" stroke-linejoin="round"/>
<path d="M740.5 1052.5 C743.8 1051.9 753.4 1050.9 760.0 1048.8 C766.6 1046.7 775.0 1042.7 780.0 1040.0 C785.0 1037.3 787.2 1035.0 790.0 1032.5 C792.8 1030.0 795.8 1026.2 797.0 1025.0" fill="none" stroke="#231f20" stroke-width="2.3" stroke-linecap="round" stroke-linejoin="round"/>
<path d="M717.5 1160.0 C722.1 1158.8 735.8 1155.6 745.0 1152.5 C754.2 1149.4 764.2 1145.4 772.5 1141.2 C780.8 1137.0 789.2 1131.2 795.0 1127.5 C800.8 1123.8 805.0 1120.2 807.0 1118.8" fill="none" stroke="#231f20" stroke-width="2.3" stroke-linecap="round" stroke-linejoin="round"/>
<path d="M727.0 1245.0 C731.2 1243.5 744.1 1240.2 752.5 1236.2 C760.9 1232.2 770.4 1226.4 777.5 1221.2 C784.6 1216.0 789.7 1210.5 795.0 1205.0 C800.3 1199.5 807.1 1190.8 809.5 1188.0" fill="none" stroke="#231f20" stroke-width="2.3" stroke-linecap="round" stroke-linejoin="round"/>
<path d="M247.0 902.0 C267.5 904.2 340.1 911.6 370.0 915.0 C399.9 918.4 406.4 920.3 426.2 922.5 C446.0 924.7 478.4 927.2 488.8 928.2" fill="none" stroke="#231f20" stroke-width="2.2" stroke-linecap="round" stroke-linejoin="round"/>
<path d="M698.8 781.2 L933.0 724.5" fill="none" stroke="#231f20" stroke-width="2.2" stroke-linecap="round" stroke-linejoin="round"/>
<text id="t1" class="lbl" transform="translate(2.38,861.7) scale(1.0751,1)" font-size="49">Imbottitura</text>
<text id="t2" class="lbl" transform="translate(2.84,915.1) scale(1.0398,1)" font-size="49">di cotone</text>
<text id="t3" class="lbl" transform="translate(946.44,746.7) scale(0.9388,1)" font-size="49">Gesso</text>
</svg>
</body>
</html>
